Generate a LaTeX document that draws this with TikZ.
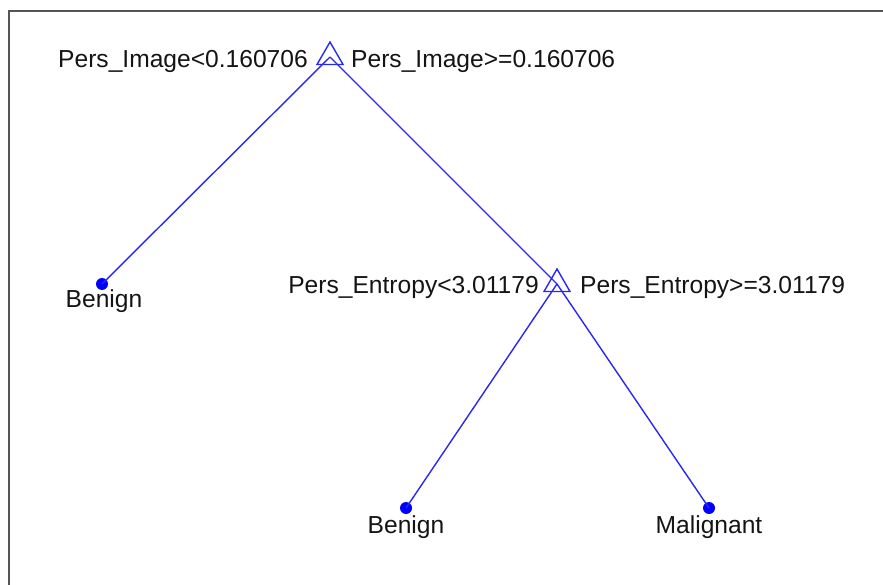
\documentclass[tikz,border=0pt]{standalone}
\usepackage{fontspec}
\setmainfont{Liberation Sans}
\usetikzlibrary{shapes.geometric}
\definecolor{treeblue}{RGB}{40,40,245}
\definecolor{framegray}{RGB}{85,85,85}
\definecolor{txt}{RGB}{20,20,20}
\tikzset{
  split/.style={draw=treeblue, line width=1.4pt, regular polygon, regular polygon sides=3, minimum size=30pt, inner sep=0pt},
  leaf/.style={circle, fill=blue, inner sep=0pt, minimum size=12pt},
  edge/.style={draw=treeblue, line width=1.4pt},
  lbl/.style={inner sep=0pt, text=txt, font=\fontsize{24.6}{29}\selectfont},
}
\begin{document}
\begin{tikzpicture}[x=1pt,y=-1pt]
\useasboundingbox (0,0) rectangle (883,585);
\draw[framegray, line width=2pt] (8.5,585) -- (8.5,11) -- (883,11);
% nodes
\node[split] (t1) at (330,57) {};
\node[split] (t2) at (557,284) {};
\node[leaf] (b1) at (102,284) {};
\node[leaf] (b2) at (406,508) {};
\node[leaf] (m1) at (709,508) {};
% edges
\draw[edge] (t1.center) -- (b1.center);
\draw[edge] (t1.center) -- (t2.center);
\draw[edge] (t2.center) -- (b2.center);
\draw[edge] (t2.center) -- (m1.center);
% labels
\node[lbl, anchor=base east] (l1) at (308,68) {Pers\_Image<0.160706};
\node[lbl, anchor=base west] (r1) at (351,68) {Pers\_Image>=0.160706};
\node[lbl, anchor=base east] (l2) at (539,293) {Pers\_Entropy<3.01179};
\node[lbl, anchor=base west] (r2) at (580,293) {Pers\_Entropy>=3.01179};
\node[lbl, anchor=base] (tb1) at (104,307) {Benign};
\node[lbl, anchor=base] (tb2) at (406,533) {Benign};
\node[lbl, anchor=base] (tm1) at (709,533) {Malignant};
\end{tikzpicture}
\end{document}
